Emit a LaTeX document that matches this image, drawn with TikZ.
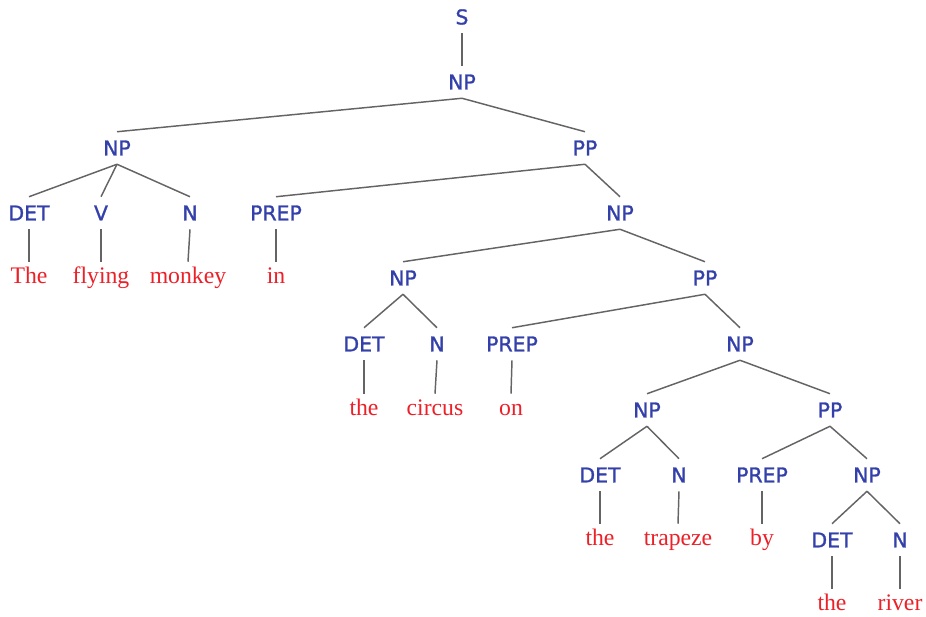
\documentclass[tikz,border=0pt]{standalone}
\usepackage{fontspec}
\usepackage{tikz}
\usetikzlibrary{positioning,calc}
\newfontfamily\catfont[FakeBold=1.3]{DejaVu Sans}
\newfontfamily\wordfont{Liberation Serif}
\definecolor{catblue}{RGB}{52,64,170}
\definecolor{wordred}{RGB}{236,32,40}
\definecolor{branchgray}{RGB}{100,100,100}
\tikzset{
          cat/.style={
            font=\catfont\fontsize{15.3}{17}\selectfont,
            text=catblue,
            inner xsep=1pt, inner ysep=0pt,
            minimum height=24pt,
            text height=11.1pt, text depth=0pt
          },
          word/.style={
            font=\wordfont\fontsize{17.8}{19}\selectfont,
            text=wordred,
            inner xsep=1pt, inner ysep=0pt,
            minimum height=24pt,
            text height=11.8pt, text depth=3.8pt
          },
          branch/.style={draw=branchgray,line width=1.1pt}
        }
\newcommand\Cat[3]{%
          \node[cat] (#1) at (#2) {#3};
        }
\newcommand\Word[3]{%
          \node[word] (#1) at (#2) {#3};
        }

\begin{document}
\begin{tikzpicture}[x=0.75pt,y=-0.75pt]
            \useasboundingbox (0,0) rectangle (926,617);

            % categories
            \Cat{s}{462,17}{S}
            \Cat{np}{462,82}{NP}
            \Cat{npA}{117,148}{NP}   \Cat{ppA}{585,148}{PP}
            \Cat{detA}{29,213}{DET}  \Cat{vA}{101,213}{V}
            \Cat{nA}{190,213}{N}     \Cat{prepA}{276,213}{PREP}
            \Cat{npB}{620,213}{NP}
            \Cat{npC}{403,278}{NP}   \Cat{ppB}{705,278}{PP}
            \Cat{detC}{364,344}{DET} \Cat{nC}{437,344}{N}
            \Cat{prepB}{512,344}{PREP} \Cat{npD}{740,344}{NP}
            \Cat{npE}{647,410}{NP}   \Cat{ppC}{830,410}{PP}
            \Cat{detE}{600,475}{DET} \Cat{nE}{679,475}{N}
            \Cat{prepC}{762,475}{PREP} \Cat{npF}{867,475}{NP}
            \Cat{detF}{832,540}{DET} \Cat{nF}{900,540}{N}

            % words
            \Word{wThe}{29,278}{The}      \Word{wFlying}{101,278}{flying}
            \Word{wMonkey}{188,278}{monkey} \Word{wIn}{276,278}{in}
            \Word{wTheB}{364,410}{the}    \Word{wCircus}{435,410}{circus}
            \Word{wOn}{511,410}{on}
            \Word{wTheC}{600,540}{the}    \Word{wTrapeze}{678,540}{trapeze}
            \Word{wBy}{762,540}{by}
            \Word{wTheD}{832,605}{the}    \Word{wRiver}{900,605}{river}

            % branches
            \foreach \a/\b in {s/np,np/npA,np/ppA,
                               npA/detA,npA/vA,npA/nA,
                               detA/wThe,vA/wFlying,nA/wMonkey,
                               ppA/prepA,ppA/npB,prepA/wIn,
                               npB/npC,npB/ppB,npC/detC,npC/nC,
                               detC/wTheB,nC/wCircus,
                               ppB/prepB,ppB/npD,prepB/wOn,
                               npD/npE,npD/ppC,npE/detE,npE/nE,
                               detE/wTheC,nE/wTrapeze,
                               ppC/prepC,ppC/npF,prepC/wBy,
                               npF/detF,npF/nF,detF/wTheD,nF/wRiver}
              \draw[branch] (\a.south) -- (\b.north);
          \end{tikzpicture}
\end{document}
